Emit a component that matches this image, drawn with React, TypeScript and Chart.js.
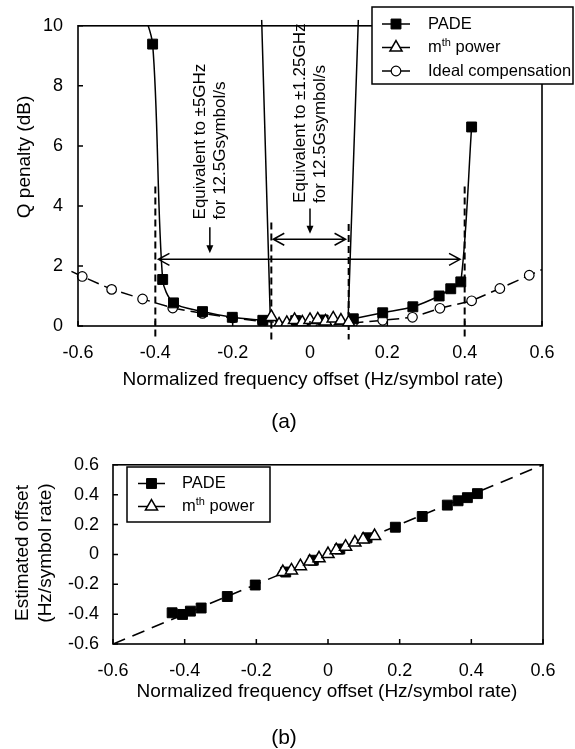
import React, { useEffect, useRef } from "react";
import { Chart, registerables } from "chart.js";

Chart.register(...registerables);

const FONT = "'Liberation Sans', Arial, Helvetica, sans-serif";

// ---------------- shared ticks ----------------
const OFFSET_TICKS = [-0.6, -0.4, -0.2, 0, 0.2, 0.4, 0.6];
const OFFSET_TICK_LABELS = ["-0.6", "-0.4", "-0.2", "0", "0.2", "0.4", "0.6"];
const PENALTY_TICKS = [0, 2, 4, 6, 8, 10];
const PENALTY_TICK_LABELS = ["0", "2", "4", "6", "8", "10"];

// ---------------- panel (a): Q penalty (dB) ----------------
const padeOffsetA = [-0.407, -0.381, -0.353, -0.278, -0.201, -0.122, -0.037, 0.034, 0.112, 0.188, 0.266, 0.334, 0.364, 0.39, 0.418];
const padePenaltyA = [9.39, 1.55, 0.77, 0.48, 0.29, 0.19, 0.18, 0.2, 0.24, 0.44, 0.64, 1.0, 1.24, 1.47, 6.63];
// PADE curve branches (left branch starts from a point above the axis range)
const padeLeftX = [-0.44, -0.407, -0.381, -0.353, -0.278, -0.201, -0.122];
const padeLeftY = [10.8, 9.39, 1.55, 0.77, 0.48, 0.29, 0.19];
const padeRightX = [0.112, 0.188, 0.266, 0.334, 0.364, 0.39, 0.418];
const padeRightY = [0.24, 0.44, 0.64, 1.0, 1.24, 1.47, 6.63];
// PADE curve shooting off the top near +/-0.1
const padeEdgeLX = [-0.122, -0.103, -0.125];
const padeEdgeLY = [0.19, 0.4, 10.2];
const padeEdgeRX = [0.125, 0.099, 0.112];
const padeEdgeRY = [10.2, 0.4, 0.24];

const mthOffsetA = [-0.1, -0.08, -0.06, -0.04, -0.02, 0, 0.02, 0.04, 0.06, 0.08, 0.1];
const mthPenaltyA = [0.3, 0.05, 0.1, 0.2, 0.12, 0.2, 0.22, 0.15, 0.25, 0.18, 0.12];

const idealOffsetA = [-0.617, -0.589, -0.513, -0.433, -0.355, -0.278, -0.2, -0.123, -0.045, 0.03, 0.11, 0.188, 0.265, 0.336, 0.418, 0.491, 0.567, 0.6];
const idealPenaltyA = [1.82, 1.65, 1.22, 0.9, 0.6, 0.42, 0.27, 0.15, 0.1, 0.0, 0.1, 0.19, 0.29, 0.59, 0.84, 1.25, 1.69, 1.88];

// dashed range markers
const boundaryX = [-0.4, -0.1, 0.1, 0.4];
const boundaryTop = [4.65, 3.45, 3.4, 4.65];
const boundaryBottom = -0.45;

// annotations
const spanArrowsA = [
  { from: -0.392, to: 0.388, at: 2.22 },
  { from: -0.095, to: 0.092, at: 2.89 },
];
const notesA = [
  { lines: ["Equivalent to \u00b15GHz", "for 12.5Gsymbol/s"], at: -0.259, textStart: 3.55, arrowFrom: 3.29, arrowTo: 2.42 },
  { lines: ["Equivalent to \u00b11.25GHz", "for 12.5Gsymbol/s"], at: 0, textStart: 4.1, arrowFrom: 3.91, arrowTo: 3.07 },
];

// ---------------- panel (b): estimated offset ----------------
const padeOffsetB = [-0.435, -0.406, -0.384, -0.354, -0.281, -0.203, -0.118, -0.041, 0.033, 0.109, 0.188, 0.263, 0.333, 0.363, 0.389, 0.417];
const padeEstB = [-0.391, -0.402, -0.38, -0.359, -0.282, -0.205, -0.118, -0.039, 0.036, 0.111, 0.182, 0.254, 0.33, 0.359, 0.38, 0.407];
const mthOffsetB = [-0.126, -0.102, -0.077, -0.051, -0.025, 0, 0.023, 0.049, 0.075, 0.098, 0.13];
const mthEstB = [-0.118, -0.107, -0.079, -0.048, -0.026, 0.002, 0.028, 0.052, 0.079, 0.1, 0.123];
const idealLineX = [-0.6, 0.6];
const idealLineY = [-0.6, 0.6];

// ---------------- texts ----------------
const X_TITLE = "Normalized frequency offset (Hz/symbol rate)";
const Y_TITLE_A = "Q penalty (dB)";
const Y_TITLE_B = ["Estimated offset", "(Hz/symbol rate)"];
const LEGEND_A = [
  { parts: [{ t: "PADE" }], marker: "rect" },
  { parts: [{ t: "m" }, { t: "th", sup: true }, { t: " power" }], marker: "triangle" },
  { parts: [{ t: "Ideal compensation" }], marker: "circle" },
];
const LEGEND_B = [LEGEND_A[0], LEGEND_A[1]];

// ---------------- styles ----------------
const R_SQ = 7;
const R_TRI = 7;
const R_CIR = 4.8;

const xy = (xs: number[], ys: number[]) => xs.map((x, i) => ({ x, y: ys[i] }));

function scale(min: number, max: number, ticks: number[], labels: string[], padding: number, fit: (s: any) => void) {
  return {
    type: "linear",
    min,
    max,
    afterBuildTicks: (s: any) => {
      s.ticks = ticks.map((v) => ({ value: v }));
    },
    afterFit: fit,
    grid: { display: false, drawTicks: false },
    border: { display: false },
    ticks: {
      autoSkip: false,
      maxRotation: 0,
      padding,
      color: "#000",
      font: { family: FONT, size: 18 },
      callback: (_v: any, i: number) => labels[i],
    },
  };
}

function drawMarker(ctx: CanvasRenderingContext2D, kind: string, x: number, y: number) {
  ctx.save();
  ctx.setLineDash([]);
  ctx.strokeStyle = "#000";
  ctx.beginPath();
  if (kind === "rect") {
    const s = Math.SQRT1_2 * R_SQ;
    ctx.rect(x - s, y - s, 2 * s, 2 * s);
    ctx.fillStyle = "#000";
    ctx.lineWidth = 1;
  } else if (kind === "triangle") {
    let a = 0;
    ctx.moveTo(x + Math.sin(a) * R_TRI, y - Math.cos(a) * R_TRI);
    a += (2 * Math.PI) / 3;
    ctx.lineTo(x + Math.sin(a) * R_TRI, y - Math.cos(a) * R_TRI);
    a += (2 * Math.PI) / 3;
    ctx.lineTo(x + Math.sin(a) * R_TRI, y - Math.cos(a) * R_TRI);
    ctx.closePath();
    ctx.fillStyle = "#fff";
    ctx.lineWidth = 1.5;
  } else {
    ctx.arc(x, y, R_CIR, 0, Math.PI * 2);
    ctx.fillStyle = "#fff";
    ctx.lineWidth = 1.2;
  }
  ctx.fill();
  ctx.stroke();
  ctx.restore();
}

function drawLegend(
  ctx: CanvasRenderingContext2D,
  box: { x: number; y: number; w: number; h: number },
  entries: any[],
  rows: number[],
  lineX0: number,
  lineX1: number,
  textX: number
) {
  ctx.save();
  ctx.fillStyle = "#fff";
  ctx.fillRect(box.x, box.y, box.w, box.h);
  ctx.strokeStyle = "#000";
  ctx.lineWidth = 1.5;
  ctx.setLineDash([]);
  ctx.strokeRect(box.x, box.y, box.w, box.h);
  entries.forEach((e, i) => {
    const y = rows[i];
    ctx.beginPath();
    ctx.lineWidth = 1.5;
    ctx.moveTo(lineX0, y);
    ctx.lineTo(lineX1, y);
    ctx.stroke();
    drawMarker(ctx, e.marker, (lineX0 + lineX1) / 2, y);
    let cx = textX;
    ctx.fillStyle = "#000";
    ctx.textAlign = "left";
    ctx.textBaseline = "middle";
    for (const p of e.parts) {
      const size = p.sup ? 11 : 16.5;
      ctx.font = `${size}px ${FONT}`;
      ctx.fillText(p.t, cx, p.sup ? y - 5 : y);
      cx += ctx.measureText(p.t).width;
    }
  });
  ctx.restore();
}

function vText(ctx: CanvasRenderingContext2D, text: string, x: number, y: number, align: CanvasTextAlign) {
  ctx.save();
  ctx.translate(x, y);
  ctx.rotate(-Math.PI / 2);
  ctx.textAlign = align;
  ctx.textBaseline = "middle";
  ctx.fillText(text, 0, 0);
  ctx.restore();
}

function frameAndTicks(chart: any) {
  const { ctx, chartArea: ca, scales } = chart;
  const { x, y } = scales;
  ctx.save();
  ctx.setLineDash([]);
  ctx.strokeStyle = "#000";
  ctx.lineWidth = 1.5;
  ctx.beginPath();
  x.ticks.forEach((t: any) => {
    const p = x.getPixelForValue(t.value);
    ctx.moveTo(p, ca.bottom);
    ctx.lineTo(p, ca.bottom - 5);
  });
  y.ticks.forEach((t: any) => {
    const p = y.getPixelForValue(t.value);
    ctx.moveTo(ca.left, p);
    ctx.lineTo(ca.left + 5, p);
  });
  ctx.stroke();
  ctx.lineWidth = 1.6;
  ctx.strokeRect(ca.left, ca.top, ca.right - ca.left, ca.bottom - ca.top);
  ctx.restore();
}

const decoA = {
  id: "decoA",
  afterDatasetsDraw(chart: any) {
    const { ctx, scales } = chart;
    const { x, y } = scales;
    ctx.save();
    ctx.strokeStyle = "#000";
    ctx.fillStyle = "#000";
    ctx.lineWidth = 1.5;
    ctx.setLineDash([]);
    // double arrows
    spanArrowsA.forEach((a) => {
      const x1 = x.getPixelForValue(a.from);
      const x2 = x.getPixelForValue(a.to);
      const py = y.getPixelForValue(a.at);
      ctx.beginPath();
      ctx.moveTo(x1, py);
      ctx.lineTo(x2, py);
      ctx.moveTo(x1 + 11, py - 6);
      ctx.lineTo(x1, py);
      ctx.lineTo(x1 + 11, py + 6);
      ctx.moveTo(x2 - 11, py - 6);
      ctx.lineTo(x2, py);
      ctx.lineTo(x2 - 11, py + 6);
      ctx.stroke();
    });
    // notes with down arrows
    ctx.font = `17px ${FONT}`;
    notesA.forEach((n) => {
      const ax = x.getPixelForValue(n.at);
      const ty = y.getPixelForValue(n.textStart);
      vText(ctx, n.lines[0], ax - 10, ty, "left");
      vText(ctx, n.lines[1], ax + 10, ty, "left");
      const y1 = y.getPixelForValue(n.arrowFrom);
      const y2 = y.getPixelForValue(n.arrowTo);
      ctx.beginPath();
      ctx.moveTo(ax, y1);
      ctx.lineTo(ax, y2 - 6);
      ctx.stroke();
      ctx.beginPath();
      ctx.moveTo(ax - 3.5, y2 - 8);
      ctx.lineTo(ax + 3.5, y2 - 8);
      ctx.lineTo(ax, y2);
      ctx.closePath();
      ctx.fill();
    });
    ctx.restore();
    frameAndTicks(chart);
  },
  afterDraw(chart: any) {
    const { ctx } = chart;
    ctx.save();
    ctx.fillStyle = "#000";
    ctx.font = `19px ${FONT}`;
    ctx.textAlign = "center";
    ctx.textBaseline = "middle";
    ctx.fillText(X_TITLE, 313, 380);
    vText(ctx, Y_TITLE_A, 25, 157, "center");
    ctx.font = `21px ${FONT}`;
    ctx.fillText("(a)", 284, 422);
    ctx.restore();
    drawLegend(ctx, { x: 372, y: 7, w: 201, h: 77 }, LEGEND_A, [24, 47.5, 71], 382, 410, 428);
  },
};

const decoB = {
  id: "decoB",
  afterDatasetsDraw(chart: any) {
    frameAndTicks(chart);
  },
  afterDraw(chart: any) {
    const { ctx } = chart;
    ctx.save();
    ctx.fillStyle = "#000";
    ctx.font = `19px ${FONT}`;
    ctx.textAlign = "center";
    ctx.textBaseline = "middle";
    ctx.fillText(X_TITLE, 327, 252);
    vText(ctx, Y_TITLE_B[0], 23, 113, "center");
    vText(ctx, Y_TITLE_B[1], 46, 113, "center");
    ctx.font = `21px ${FONT}`;
    ctx.fillText("(b)", 284, 298);
    ctx.restore();
    drawLegend(ctx, { x: 127, y: 27, w: 143, h: 55 }, LEGEND_B, [43.5, 66.5], 138, 165, 182);
  },
};

function configA(): any {
  const datasets: any[] = [];
  boundaryX.forEach((bx, i) => {
    datasets.push({
      data: [
        { x: bx, y: boundaryTop[i] },
        { x: bx, y: boundaryBottom },
      ],
      showLine: true,
      borderColor: "#000",
      borderWidth: 2,
      borderDash: [7, 4],
      pointRadius: 0,
      clip: false,
      order: 6,
    });
  });
  datasets.push({
    data: xy(idealOffsetA, idealPenaltyA),
    showLine: true,
    borderColor: "#000",
    borderWidth: 1.5,
    borderDash: [12, 6],
    pointStyle: "circle",
    pointRadius: idealOffsetA.map((_, i) => (i === 0 || i === idealOffsetA.length - 1 ? 0 : R_CIR)),
    pointBackgroundColor: "#fff",
    pointBorderColor: "#000",
    pointBorderWidth: 1.2,
    clip: { left: 8, right: 0, top: 0, bottom: 0 },
    order: 5,
  });
  const curve = (xs: number[], ys: number[], tension: number, top: number) => ({
    data: xy(xs, ys),
    showLine: true,
    borderColor: "#000",
    borderWidth: 1.5,
    tension,
    pointRadius: 0,
    clip: { left: 0, right: 0, top, bottom: 0 },
    order: 4,
  });
  datasets.push(curve(padeLeftX, padeLeftY, 0.3, 0));
  datasets.push(curve(padeRightX, padeRightY, 0.3, 0));
  datasets.push(curve(padeEdgeLX, padeEdgeLY, 0, 6));
  datasets.push(curve(padeEdgeRX, padeEdgeRY, 0, 6));
  datasets.push({
    data: xy(padeOffsetA, padePenaltyA),
    showLine: false,
    pointStyle: "rect",
    pointRadius: R_SQ,
    pointBackgroundColor: "#000",
    pointBorderColor: "#000",
    pointBorderWidth: 1,
    order: 2,
  });
  datasets.push({
    data: xy(mthOffsetA, mthPenaltyA),
    showLine: true,
    borderColor: "#000",
    borderWidth: 1.2,
    pointStyle: "triangle",
    pointRadius: R_TRI,
    pointBackgroundColor: "#fff",
    pointBorderColor: "#000",
    pointBorderWidth: 1.5,
    order: 1,
  });
  return {
    type: "scatter",
    data: { datasets },
    plugins: [decoA],
    options: {
      animation: false,
      responsive: false,
      devicePixelRatio: 1,
      events: [],
      layout: { padding: { left: 0, right: 33, top: 19, bottom: 0 } },
      plugins: { legend: { display: false }, tooltip: { enabled: false }, title: { display: false } },
      scales: {
        x: scale(-0.6, 0.6, OFFSET_TICKS, OFFSET_TICK_LABELS, 16, (s: any) => {
          s.height = 114;
        }),
        y: scale(0, 10, PENALTY_TICKS, PENALTY_TICK_LABELS, 15, (s: any) => {
          s.width = 78;
        }),
      },
    },
  };
}

function configB(): any {
  const datasets: any[] = [
    {
      data: xy(idealLineX, idealLineY),
      showLine: true,
      borderColor: "#000",
      borderWidth: 1.6,
      borderDash: [13, 8],
      pointRadius: 0,
      order: 3,
    },
    {
      data: xy(padeOffsetB, padeEstB),
      showLine: false,
      pointStyle: "rect",
      pointRadius: R_SQ,
      pointBackgroundColor: "#000",
      pointBorderColor: "#000",
      pointBorderWidth: 1,
      order: 2,
    },
    {
      data: xy(mthOffsetB, mthEstB),
      showLine: false,
      pointStyle: "triangle",
      pointRadius: R_TRI,
      pointBackgroundColor: "#fff",
      pointBorderColor: "#000",
      pointBorderWidth: 1.5,
      order: 1,
    },
  ];
  return {
    type: "scatter",
    data: { datasets },
    plugins: [decoB],
    options: {
      animation: false,
      responsive: false,
      devicePixelRatio: 1,
      events: [],
      layout: { padding: { left: 0, right: 32, top: 20, bottom: 0 } },
      plugins: { legend: { display: false }, tooltip: { enabled: false }, title: { display: false } },
      scales: {
        x: scale(-0.6, 0.6, OFFSET_TICKS, OFFSET_TICK_LABELS, 16, (s: any) => {
          s.height = 105;
        }),
        y: scale(-0.6, 0.6, OFFSET_TICKS, OFFSET_TICK_LABELS, 14, (s: any) => {
          s.width = 113;
        }),
      },
    },
  };
}

export default function App() {
  const refA = useRef<HTMLCanvasElement>(null);
  const refB = useRef<HTMLCanvasElement>(null);
  useEffect(() => {
    const a = new Chart(refA.current as HTMLCanvasElement, configA());
    const b = new Chart(refB.current as HTMLCanvasElement, configB());
    return () => {
      a.destroy();
      b.destroy();
    };
  }, []);
  return (
    <div style={{ position: "absolute", left: 0, top: 0, width: 575, height: 749, background: "#fff" }}>
      <canvas ref={refA} width={575} height={440} style={{ position: "absolute", left: 0, top: 0, width: 575, height: 440 }} />
      <canvas ref={refB} width={575} height={309} style={{ position: "absolute", left: 0, top: 440, width: 575, height: 309 }} />
    </div>
  );
}
